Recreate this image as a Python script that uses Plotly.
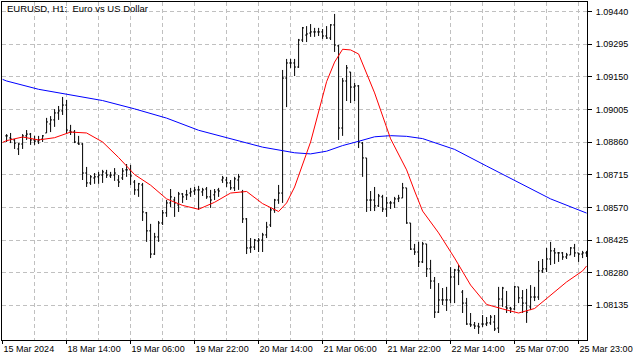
import plotly.graph_objects as go

# ---------------- data (EURUSD H1) ----------------
bar_index = list(range(146))

open_ = [1.08888,1.08879,1.08870,1.08830,1.08852,1.08888,1.08896,1.08870,1.08865,1.08874,
         1.08901,1.08941,1.08959,1.08990,1.08999,1.09025,1.08910,1.08905,1.08856,1.08852,
         1.08723,1.08679,1.08701,1.08706,1.08714,1.08723,1.08710,1.08714,1.08692,1.08701,
         1.08737,1.08737,1.08683,1.08648,1.08670,1.08546,1.08466,1.08363,1.08439,1.08501,
         1.08546,1.08590,1.08603,1.08581,1.08630,1.08626,1.08634,1.08643,1.08648,1.08639,
         1.08652,1.08617,1.08626,1.08648,1.08692,1.08692,1.08679,1.08657,1.08692,1.08639,
         1.08519,1.08390,1.08394,1.08421,1.08425,1.08448,1.08492,1.08559,1.08603,1.08634,
         1.09145,1.09212,1.09212,1.09194,1.09314,1.09336,1.09345,1.09350,1.09350,1.09350,
         1.09332,1.09323,1.09381,1.09288,1.08923,1.09132,1.09172,1.09105,1.09110,1.08856,
         1.08790,1.08603,1.08603,1.08577,1.08617,1.08563,1.08590,1.08590,1.08608,1.08612,
         1.08657,1.08501,1.08385,1.08372,1.08328,1.08408,1.08297,1.08243,1.08105,1.08159,
         1.08159,1.08159,1.08261,1.08292,1.08194,1.08145,1.08052,1.08048,1.08043,1.08052,
         1.08052,1.08057,1.08061,1.08034,1.08163,1.08128,1.08123,1.08119,1.08217,1.08168,
         1.08145,1.08128,1.08172,1.08172,1.08288,1.08297,1.08341,1.08377,1.08368,1.08368,
         1.08350,1.08359,1.08390,1.08368,1.08363,1.08368]

high = [1.08896,1.08901,1.08874,1.08856,1.08896,1.08914,1.08901,1.08888,1.08888,1.08892,
        1.08968,1.08976,1.09007,1.09021,1.09061,1.09048,1.08937,1.08914,1.08888,1.08856,
        1.08750,1.08714,1.08723,1.08728,1.08737,1.08737,1.08728,1.08745,1.08714,1.08745,
        1.08763,1.08759,1.08692,1.08679,1.08679,1.08550,1.08497,1.08457,1.08510,1.08559,
        1.08603,1.08652,1.08617,1.08639,1.08634,1.08648,1.08657,1.08661,1.08666,1.08657,
        1.08661,1.08648,1.08652,1.08657,1.08710,1.08706,1.08692,1.08706,1.08719,1.08648,
        1.08523,1.08434,1.08430,1.08434,1.08457,1.08506,1.08568,1.08608,1.08670,1.09181,
        1.09230,1.09230,1.09230,1.09319,1.09372,1.09376,1.09385,1.09368,1.09368,1.09363,
        1.09376,1.09385,1.09430,1.09292,1.09145,1.09203,1.09172,1.09123,1.09114,1.08861,
        1.08790,1.08643,1.08661,1.08630,1.08626,1.08617,1.08599,1.08617,1.08626,1.08679,
        1.08657,1.08501,1.08408,1.08417,1.08417,1.08408,1.08337,1.08261,1.08234,1.08212,
        1.08217,1.08305,1.08297,1.08314,1.08203,1.08168,1.08101,1.08061,1.08057,1.08092,
        1.08083,1.08092,1.08092,1.08217,1.08217,1.08199,1.08128,1.08221,1.08217,1.08203,
        1.08208,1.08225,1.08217,1.08332,1.08341,1.08390,1.08417,1.08390,1.08372,1.08372,
        1.08368,1.08394,1.08408,1.08368,1.08377,1.08377]

low = [1.08861,1.08856,1.08830,1.08803,1.08830,1.08870,1.08848,1.08848,1.08852,1.08861,
       1.08901,1.08905,1.08928,1.08959,1.08981,1.08896,1.08892,1.08856,1.08848,1.08692,
       1.08661,1.08670,1.08675,1.08675,1.08679,1.08701,1.08701,1.08688,1.08661,1.08692,
       1.08706,1.08670,1.08626,1.08617,1.08510,1.08417,1.08345,1.08359,1.08417,1.08492,
       1.08528,1.08572,1.08528,1.08550,1.08590,1.08603,1.08617,1.08626,1.08559,1.08621,
       1.08608,1.08568,1.08603,1.08617,1.08679,1.08661,1.08648,1.08643,1.08648,1.08501,
       1.08363,1.08368,1.08381,1.08372,1.08372,1.08434,1.08483,1.08546,1.08586,1.08590,
       1.09016,1.09190,1.09154,1.09190,1.09305,1.09305,1.09328,1.09328,1.09332,1.09319,
       1.09319,1.09314,1.09261,1.08870,1.08888,1.09043,1.09034,1.09043,1.08834,1.08706,
       1.08550,1.08554,1.08554,1.08572,1.08550,1.08528,1.08563,1.08568,1.08594,1.08612,
       1.08497,1.08381,1.08359,1.08305,1.08323,1.08261,1.08208,1.08079,1.08101,1.08136,
       1.08110,1.08145,1.08145,1.08225,1.08101,1.08048,1.08039,1.08030,1.08008,1.08039,
       1.08043,1.08048,1.08021,1.08012,1.08128,1.08101,1.08101,1.08114,1.08145,1.08101,
       1.08057,1.08114,1.08154,1.08159,1.08279,1.08283,1.08314,1.08319,1.08328,1.08337,
       1.08341,1.08359,1.08350,1.08328,1.08345,1.08350]

close = [1.08888,1.08874,1.08856,1.08852,1.08888,1.08896,1.08870,1.08865,1.08870,1.08888,
         1.08950,1.08959,1.08990,1.08999,1.09025,1.08914,1.08905,1.08861,1.08852,1.08723,
         1.08679,1.08706,1.08706,1.08714,1.08728,1.08714,1.08714,1.08723,1.08683,1.08732,
         1.08737,1.08710,1.08648,1.08675,1.08550,1.08466,1.08363,1.08439,1.08501,1.08546,
         1.08590,1.08617,1.08590,1.08630,1.08617,1.08626,1.08639,1.08648,1.08648,1.08648,
         1.08617,1.08603,1.08639,1.08643,1.08701,1.08679,1.08657,1.08697,1.08706,1.08519,
         1.08390,1.08394,1.08425,1.08425,1.08448,1.08483,1.08559,1.08603,1.08634,1.09145,
         1.09212,1.09212,1.09194,1.09314,1.09368,1.09341,1.09350,1.09350,1.09350,1.09332,
         1.09323,1.09381,1.09292,1.08923,1.09132,1.09190,1.09105,1.09110,1.08861,1.08790,
         1.08603,1.08603,1.08577,1.08621,1.08563,1.08590,1.08590,1.08608,1.08612,1.08657,
         1.08501,1.08385,1.08372,1.08328,1.08408,1.08297,1.08243,1.08105,1.08159,1.08159,
         1.08159,1.08261,1.08292,1.08288,1.08145,1.08052,1.08048,1.08043,1.08039,1.08052,
         1.08057,1.08083,1.08030,1.08163,1.08212,1.08123,1.08119,1.08217,1.08168,1.08145,
         1.08105,1.08172,1.08172,1.08288,1.08297,1.08341,1.08377,1.08368,1.08368,1.08350,
         1.08359,1.08390,1.08368,1.08363,1.08368,1.08368]

ma_fast_idx = [-1, 0, 4, 8, 12, 16, 20, 24, 28, 32, 36, 40, 44, 48, 52, 56, 60, 64, 68, 70,
               72, 76, 80, 82, 84, 86, 88, 92, 96, 100, 102, 104, 108, 112, 116, 120, 124,
               128, 132, 136, 140, 144, 145]
ma_fast_val = [1.08859, 1.08867, 1.08883, 1.08870, 1.08880, 1.08905, 1.08901, 1.08861, 1.08792,
               1.08716, 1.08669, 1.08608, 1.08579, 1.08562, 1.08593, 1.08634, 1.08641, 1.08587,
               1.08552, 1.08590, 1.08661, 1.08861, 1.09129, 1.09216, 1.09273, 1.09270, 1.09252,
               1.09079, 1.08875, 1.08737, 1.08643, 1.08554, 1.08457, 1.08345, 1.08225, 1.08139,
               1.08119, 1.08101, 1.08121, 1.08181, 1.08239, 1.08288, 1.08310]

ma_slow_idx = [-1, 0, 8, 16, 24, 32, 40, 48, 56, 64, 72, 76, 80, 84, 88, 92, 96, 100, 104,
               112, 120, 128, 136, 145]
ma_slow_val = [1.09139, 1.09132, 1.09095, 1.09071, 1.09045, 1.09008, 1.08967, 1.08913, 1.08874,
               1.08838, 1.08813, 1.08808, 1.08820, 1.08845, 1.08864, 1.08884, 1.08889, 1.08886,
               1.08876, 1.08828, 1.08754, 1.08682, 1.08608, 1.08545]

time_tick_idx = [-1, 15, 31, 47, 63, 79, 95, 111, 127, 143]
time_tick_text = ["15 Mar 2024", "18 Mar 14:00", "19 Mar 06:00", "19 Mar 22:00", "20 Mar 14:00",
                  "21 Mar 06:00", "21 Mar 22:00", "22 Mar 14:00", "25 Mar 07:00", "25 Mar 23:00"]
time_grid_idx = [7, 23, 39, 55, 71, 87, 103, 119, 135]

price_ticks = [1.08135, 1.08280, 1.08425, 1.08570, 1.08715, 1.08860, 1.09005, 1.09150,
               1.09295, 1.09440]

title_text = "EURUSD, H1:\u00a0 Euro vs US Dollar"

# ---------------- figure ----------------
FONT = "Liberation Sans"
GRID = "#c0c0c0"
DASH = "4px,3px"

fig = go.Figure()
fig.add_trace(go.Ohlc(
    x=bar_index, open=open_, high=high, low=low, close=close,
    increasing=dict(line=dict(color="black", width=1)),
    decreasing=dict(line=dict(color="black", width=1)),
    tickwidth=0.35, hoverinfo="skip"))
fig.add_trace(go.Scatter(x=ma_slow_idx, y=ma_slow_val, mode="lines",
                         line=dict(color="#0000ff", width=1), hoverinfo="skip"))
fig.add_trace(go.Scatter(x=ma_fast_idx, y=ma_fast_val, mode="lines",
                         line=dict(color="#ff0000", width=1), hoverinfo="skip"))

fig.update_layout(
    width=640, height=360,
    margin=dict(l=2, r=53, t=2, b=20),
    paper_bgcolor="white", plot_bgcolor="white",
    showlegend=False,
    font=dict(family=FONT, size=9, color="black"),
    annotations=[dict(text=title_text, x=0, y=1, xref="paper", yref="paper",
                      xanchor="left", yanchor="top", xshift=3, yshift=1,
                      showarrow=False, font=dict(family=FONT, size=9.5, color="black"))],
)
fig.update_xaxes(
    range=[-1.15, 145.1], rangeslider=dict(visible=False),
    tickmode="array", tickvals=time_tick_idx, ticktext=time_tick_text,
    tickangle=0, tickfont=dict(family=FONT, size=9, color="black"),
    ticks="outside", ticklen=3, tickcolor="black", tickwidth=1,
    ticklabelposition="outside right", ticklabeloverflow="allow",
    showgrid=True, gridcolor=GRID, griddash=DASH, gridwidth=1,
    minor=dict(tickvals=time_grid_idx, showgrid=True, gridcolor=GRID, griddash=DASH,
               gridwidth=1, ticks=""),
    showline=True, mirror=True, linecolor="black", linewidth=1,
    zeroline=False, automargin=False, fixedrange=True,
)
fig.update_yaxes(
    side="right", range=[1.07981, 1.09483],
    tickmode="array", tickvals=price_ticks, tickformat=".5f",
    tickfont=dict(family=FONT, size=9, color="black"),
    ticks="outside", ticklen=4, tickcolor="black", tickwidth=1,
    ticklabelstandoff=2,
    showgrid=True, gridcolor=GRID, griddash=DASH, gridwidth=1,
    showline=True, mirror=True, linecolor="black", linewidth=1,
    zeroline=False, automargin=False, fixedrange=True,
)

fig.write_html("out.html",
               config={"displayModeBar": False, "staticPlot": True},
               post_script="document.body.style.margin='0';document.body.style.padding='0';")
